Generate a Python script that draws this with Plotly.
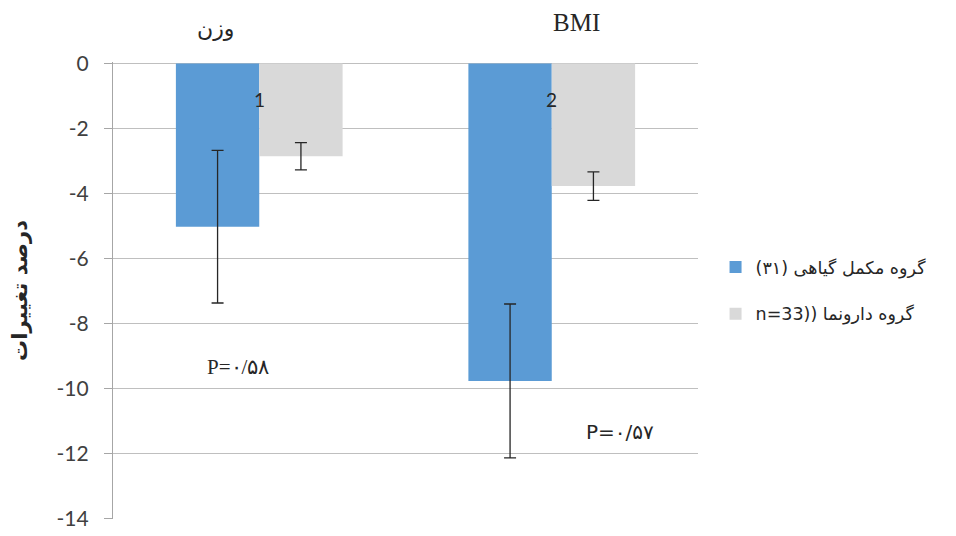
import plotly.graph_objects as go

categories = ["1", "2"]
herbal_values = [-5.02, -9.77]
herbal_err = [2.35, 2.37]
placebo_values = [-2.85, -3.77]
placebo_err = [0.42, 0.44]
series_names = ["\u200e(۳۱)\u200e گروه مکمل گیاهی", "n=33))\u200e گروه دارونما"]
y_ticks = [0, -2, -4, -6, -8, -10, -12, -14]
y_title = "درصد تغییرات"
group_titles = ["وزن", "BMI"]
p_labels = ["P=۰/۵۸", "P=۰/۵۷"]

fig = go.Figure()
fig.add_trace(go.Bar(
    x=categories, y=herbal_values, name=series_names[0],
    marker=dict(color="#5B9BD5", line=dict(width=0)),
    error_y=dict(type="data", array=herbal_err, color="#262626", thickness=1.3, width=6),
    legendgroup="a",
))
fig.add_trace(go.Bar(
    x=categories, y=placebo_values, name=series_names[1],
    marker=dict(color="#D9D9D9", line=dict(width=0)),
    error_y=dict(type="data", array=placebo_err, color="#262626", thickness=1.3, width=6),
    legendgroup="b",
))

fig.update_layout(
    width=948, height=528,
    margin=dict(l=105, r=258, t=54, b=17, autoexpand=False),
    paper_bgcolor="white", plot_bgcolor="white",
    barmode="group", bargap=0.43, bargroupgap=0,
    font=dict(family="Lato, 'DejaVu Sans', sans-serif", color="#404040"),
    legend=dict(x=1.03, y=0.5, xanchor="left", yanchor="middle",
                font=dict(size=17.5, color="#262626", family="'DejaVu Sans', sans-serif"),
                traceorder="grouped", tracegroupgap=21, itemwidth=30),
    xaxis=dict(showticklabels=False, showline=False, ticks="", showgrid=False,
               automargin=False, range=[-0.5, 1.5]),
    yaxis=dict(range=[-14.02, 0.05], tickvals=y_ticks, ticktext=[str(v) for v in y_ticks],
               showgrid=True, gridcolor="#BFBFBF", gridwidth=1.3,
               showline=True, linecolor="#A6A6A6", linewidth=1.3, ticks="outside", ticklen=8,
               tickcolor="#A6A6A6", zeroline=True, zerolinecolor="#BFBFBF", zerolinewidth=1.3,
               automargin=False, ticklabelstandoff=11,
               tickfont=dict(size=21, color="#404040", family="Lato, sans-serif"),
               title=dict(text="<b>" + y_title + "</b>", standoff=24,
                          font=dict(size=21, color="#262626", family="'DejaVu Sans', sans-serif"))),
)

for i, cat in enumerate(categories):
    fig.add_annotation(x=i, y=0, xref="x", yref="y", yshift=-36, text=cat, showarrow=False,
                       xanchor="center", yanchor="middle",
                       font=dict(size=19, color="#262626", family="Lato, sans-serif"))

fig.add_annotation(x=-0.15, y=1.074, xref="x", yref="paper", text=group_titles[0], showarrow=False,
                   xanchor="center", yanchor="middle",
                   font=dict(size=22, color="#262626", family="'DejaVu Sans', serif"))
fig.add_annotation(x=1.086, y=1.087, xref="x", yref="paper", text=group_titles[1], showarrow=False,
                   xanchor="center", yanchor="middle",
                   font=dict(size=25, color="#262626", family="'Liberation Serif', serif"))
fig.add_annotation(x=-0.073, y=-9.34, xref="x", yref="y", text=p_labels[0], showarrow=False,
                   xanchor="center", yanchor="middle",
                   font=dict(size=21, color="#262626", family="'Liberation Serif', serif"))
fig.add_annotation(x=1.233, y=-11.33, xref="x", yref="y", text=p_labels[1], showarrow=False,
                   xanchor="center", yanchor="middle",
                   font=dict(size=20, color="#262626", family="'DejaVu Sans', sans-serif"))

fig.write_html("out.html")
